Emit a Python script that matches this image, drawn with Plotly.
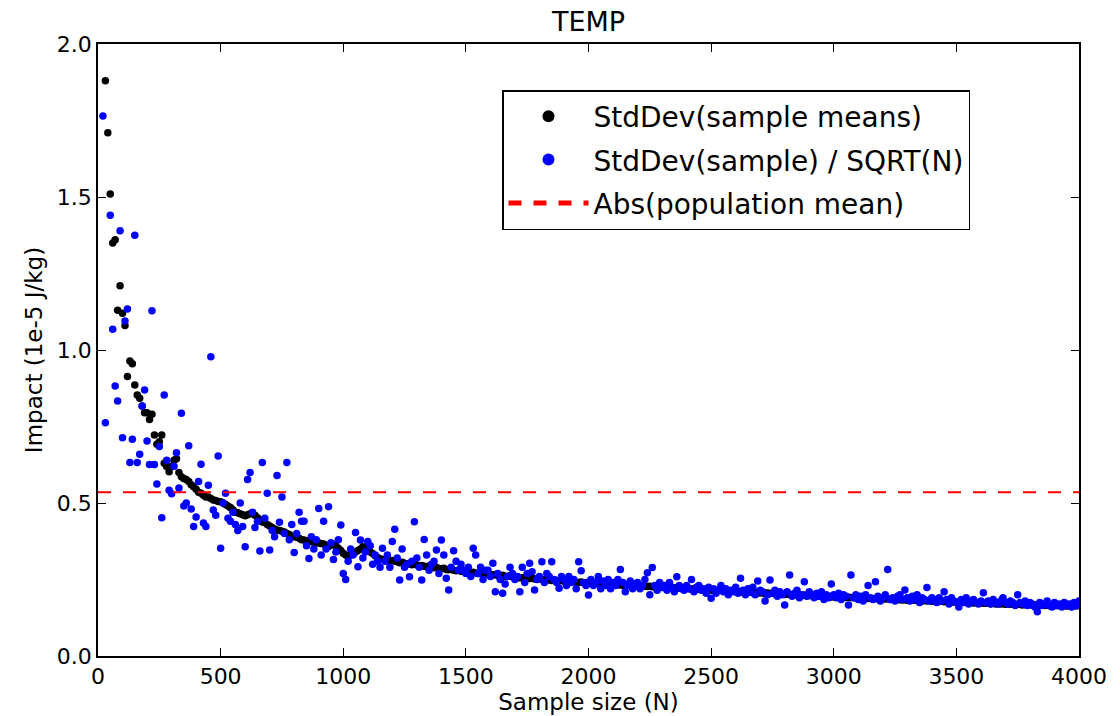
import plotly.graph_objects as go

sample_sizes = list(range(10, 4001, 10))

std_sample_means = [
    3.45, 2.47, 1.88, 1.71, 1.51, 1.35, 1.36, 1.13, 1.21, 1.12,
    1.08, 0.913, 0.964, 0.955, 0.886, 0.853, 0.842, 0.817, 0.795, 0.795,
    0.773, 0.79, 0.722, 0.692, 0.70, 0.722, 0.63, 0.619, 0.602, 0.62,
    0.64, 0.645, 0.60, 0.586, 0.58, 0.577, 0.57, 0.56, 0.553, 0.545,
    0.535, 0.532, 0.525, 0.52, 0.52, 0.515, 0.51, 0.508, 0.505, 0.504,
    0.50, 0.495, 0.49, 0.485, 0.478, 0.47, 0.468, 0.465, 0.462, 0.458,
    0.462, 0.465, 0.468, 0.46, 0.452, 0.445, 0.438, 0.436, 0.43, 0.425,
    0.42, 0.415, 0.412, 0.41, 0.408, 0.405, 0.40, 0.397, 0.392, 0.39,
    0.388, 0.385, 0.38, 0.379, 0.377, 0.375, 0.373, 0.372, 0.37, 0.369,
    0.368, 0.366, 0.362, 0.358, 0.362, 0.365, 0.36, 0.352, 0.345, 0.336,
    0.33, 0.325, 0.33, 0.335, 0.34, 0.345, 0.35, 0.357, 0.352, 0.345,
    0.34, 0.335, 0.328, 0.322, 0.318, 0.315, 0.316, 0.312, 0.31, 0.312,
    0.31, 0.308, 0.305, 0.306, 0.303, 0.30, 0.302, 0.298, 0.30, 0.297,
    0.295, 0.296, 0.293, 0.292, 0.294, 0.29, 0.288, 0.29, 0.286, 0.285,
    0.287, 0.283, 0.282, 0.284, 0.28, 0.279, 0.281, 0.277, 0.276, 0.278,
    0.275, 0.273, 0.274, 0.271, 0.27, 0.272, 0.268, 0.267, 0.269, 0.266,
    0.265, 0.266, 0.263, 0.262, 0.264, 0.261, 0.26, 0.262, 0.259, 0.258,
    0.259, 0.256, 0.255, 0.257, 0.254, 0.253, 0.255, 0.252, 0.251, 0.253,
    0.25, 0.249, 0.251, 0.248, 0.247, 0.249, 0.246, 0.245, 0.247, 0.244,
    0.245, 0.243, 0.242, 0.244, 0.241, 0.24, 0.242, 0.239, 0.24, 0.238,
    0.239, 0.238, 0.237, 0.238, 0.236, 0.235, 0.236, 0.234, 0.233, 0.234,
    0.233, 0.232, 0.233, 0.231, 0.231, 0.232, 0.230, 0.229, 0.230, 0.229,
    0.229, 0.228, 0.228, 0.227, 0.228, 0.226, 0.226, 0.225, 0.226, 0.224,
    0.225, 0.224, 0.223, 0.224, 0.222, 0.223, 0.221, 0.222, 0.220, 0.221,
    0.220, 0.219, 0.220, 0.218, 0.219, 0.217, 0.218, 0.216, 0.217, 0.215,
    0.216, 0.215, 0.214, 0.215, 0.213, 0.214, 0.212, 0.211, 0.212, 0.210,
    0.211, 0.210, 0.209, 0.210, 0.208, 0.209, 0.207, 0.208, 0.206, 0.207,
    0.206, 0.205, 0.206, 0.204, 0.205, 0.203, 0.204, 0.202, 0.203, 0.201,
    0.202, 0.201, 0.200, 0.201, 0.199, 0.200, 0.198, 0.199, 0.197, 0.198,
    0.197, 0.198, 0.196, 0.197, 0.195, 0.196, 0.194, 0.195, 0.193, 0.194,
    0.193, 0.194, 0.192, 0.193, 0.191, 0.192, 0.191, 0.190, 0.191, 0.189,
    0.190, 0.189, 0.190, 0.188, 0.189, 0.187, 0.188, 0.187, 0.186, 0.187,
    0.186, 0.187, 0.185, 0.186, 0.184, 0.185, 0.184, 0.183, 0.184, 0.182,
    0.183, 0.182, 0.183, 0.181, 0.182, 0.180, 0.181, 0.180, 0.181, 0.179,
    0.180, 0.179, 0.178, 0.179, 0.177, 0.178, 0.177, 0.176, 0.177, 0.176,
    0.177, 0.175, 0.176, 0.175, 0.174, 0.175, 0.173, 0.174, 0.173, 0.174,
    0.172, 0.173, 0.172, 0.171, 0.172, 0.170, 0.171, 0.170, 0.171, 0.169,
    0.170, 0.169, 0.170, 0.168, 0.169, 0.168, 0.167, 0.168, 0.167, 0.168,
    0.166, 0.167, 0.166, 0.165, 0.166, 0.165, 0.166, 0.164, 0.165, 0.164,
    0.165, 0.164, 0.163, 0.164, 0.163, 0.164, 0.162, 0.163, 0.164, 0.165,
]

std_sample_over_sqrt_n = [
    2.35, 1.765, 0.762, 2.05, 1.44, 1.068, 0.882, 0.833, 1.39, 0.713,
    1.095, 1.134, 0.632, 0.708, 1.375, 0.632, 0.659, 0.817, 0.869, 0.703,
    0.626, 1.128, 0.626, 0.562, 0.685, 0.452, 0.853, 0.64, 0.542, 0.53,
    0.62, 0.664, 0.549, 0.793, 0.49, 0.50, 0.687, 0.48, 0.423, 0.454,
    0.57, 0.627, 0.435, 0.423, 0.558, 0.978, 0.477, 0.46, 0.654, 0.352,
    0.50, 0.532, 0.45, 0.44, 0.47, 0.43, 0.41, 0.50, 0.423, 0.357,
    0.577, 0.60, 0.47, 0.42, 0.44, 0.343, 0.632, 0.45, 0.532, 0.346,
    0.41, 0.39, 0.59, 0.437, 0.52, 0.40, 0.632, 0.38, 0.43, 0.338,
    0.40, 0.47, 0.44, 0.44, 0.36, 0.319, 0.39, 0.35, 0.38, 0.482,
    0.33, 0.44, 0.35, 0.488, 0.37, 0.315, 0.34, 0.38, 0.428, 0.27,
    0.25, 0.31, 0.35, 0.33, 0.404, 0.292, 0.379, 0.32, 0.34, 0.374,
    0.36, 0.30, 0.33, 0.31, 0.29, 0.352, 0.31, 0.33, 0.29, 0.374,
    0.414, 0.32, 0.248, 0.35, 0.29, 0.30, 0.259, 0.31, 0.439, 0.32,
    0.29, 0.248, 0.381, 0.33, 0.28, 0.30, 0.31, 0.346, 0.27, 0.379,
    0.33, 0.254, 0.216, 0.29, 0.344, 0.31, 0.28, 0.30, 0.28, 0.27,
    0.29, 0.26, 0.352, 0.33, 0.27, 0.29, 0.25, 0.28, 0.28, 0.26,
    0.303, 0.21, 0.27, 0.25, 0.205, 0.235, 0.26, 0.29, 0.27, 0.25,
    0.26, 0.21, 0.29, 0.24, 0.27, 0.303, 0.275, 0.216, 0.25, 0.26,
    0.308, 0.24, 0.27, 0.26, 0.308, 0.25, 0.24, 0.221, 0.26, 0.25,
    0.23, 0.26, 0.24, 0.25, 0.22, 0.308, 0.279, 0.24, 0.23, 0.199,
    0.25, 0.23, 0.24, 0.26, 0.22, 0.245, 0.23, 0.25, 0.22, 0.24,
    0.23, 0.25, 0.283, 0.24, 0.21, 0.23, 0.245, 0.22, 0.235, 0.24,
    0.22, 0.23, 0.25, 0.272, 0.20, 0.289, 0.23, 0.215, 0.24, 0.225,
    0.23, 0.215, 0.24, 0.225, 0.21, 0.259, 0.23, 0.22, 0.215, 0.23,
    0.22, 0.25, 0.21, 0.225, 0.23, 0.215, 0.22, 0.205, 0.225, 0.189,
    0.22, 0.205, 0.215, 0.23, 0.21, 0.22, 0.20, 0.215, 0.21, 0.225,
    0.205, 0.254, 0.215, 0.20, 0.22, 0.21, 0.225, 0.20, 0.245, 0.215,
    0.21, 0.18, 0.20, 0.248, 0.205, 0.215, 0.195, 0.21, 0.20, 0.167,
    0.21, 0.265, 0.195, 0.205, 0.215, 0.19, 0.20, 0.243, 0.195, 0.21,
    0.20, 0.19, 0.205, 0.195, 0.21, 0.185, 0.20, 0.19, 0.235, 0.20,
    0.19, 0.205, 0.185, 0.20, 0.195, 0.167, 0.265, 0.19, 0.20, 0.185,
    0.195, 0.18, 0.20, 0.23, 0.19, 0.185, 0.243, 0.195, 0.18, 0.19,
    0.20, 0.283, 0.185, 0.19, 0.18, 0.195, 0.20, 0.185, 0.216, 0.19,
    0.18, 0.195, 0.185, 0.20, 0.175, 0.19, 0.185, 0.224, 0.18, 0.19,
    0.185, 0.175, 0.19, 0.18, 0.21, 0.185, 0.17, 0.19, 0.18, 0.175,
    0.16, 0.185, 0.175, 0.19, 0.17, 0.18, 0.185, 0.175, 0.17, 0.18,
    0.207, 0.175, 0.18, 0.17, 0.185, 0.175, 0.17, 0.18, 0.19, 0.175,
    0.17, 0.18, 0.175, 0.165, 0.20, 0.175, 0.17, 0.18, 0.165, 0.175,
    0.17, 0.16, 0.145, 0.175, 0.165, 0.17, 0.18, 0.165, 0.16, 0.175,
    0.165, 0.17, 0.16, 0.175, 0.165, 0.17, 0.16, 0.175, 0.165, 0.18,
]

abs_population_mean = 0.535
x_range = [0, 4000]
x_ticks = [0, 500, 1000, 1500, 2000, 2500, 3000, 3500, 4000]
y_ticks = [0.0, 0.5, 1.0, 1.5, 2.0]

FONT = "DejaVu Sans"

fig = go.Figure()
fig.add_trace(go.Scatter(
    x=sample_sizes, y=std_sample_means, mode="markers",
    name="StdDev(sample means)", legendgroup="a",
    marker=dict(color="#000000", size=7.5, line=dict(width=0)),
))
fig.add_trace(go.Scatter(
    x=sample_sizes, y=std_sample_over_sqrt_n, mode="markers",
    name="StdDev(sample) / SQRT(N)", legendgroup="b",
    marker=dict(color="#0000ff", size=7.5, line=dict(width=0)),
))
fig.add_trace(go.Scatter(
    x=x_range, y=[abs_population_mean, abs_population_mean], mode="lines",
    name="Abs(population mean)", legendgroup="c",
    line=dict(color="#ff0000", width=2, dash="13px,12px"),
))

axis_common = dict(
    showline=True, linecolor="black", linewidth=1.5, mirror="allticks",
    ticks="inside", ticklen=8, tickwidth=1, tickcolor="black",
    showgrid=False, zeroline=False,
    tickfont=dict(family=FONT, size=22, color="black"),
)

fig.update_layout(
    width=1120, height=716,
    margin=dict(l=98, r=41, t=44, b=60),
    paper_bgcolor="white", plot_bgcolor="white",
    font=dict(family=FONT, color="black"),
    title=dict(text="TEMP", x=(98 + 1079) / 2 / 1120, xanchor="center",
               y=1 - 22 / 716, yanchor="middle",
               font=dict(family=FONT, size=27, color="black")),
    xaxis=dict(range=x_range, tickvals=x_ticks,
               ticktext=[str(t) for t in x_ticks],
               title=dict(text="Sample size (N)", standoff=0,
                          font=dict(family=FONT, size=23)),
               **axis_common),
    yaxis=dict(range=[0, 2], tickvals=y_ticks,
               ticktext=[f"{t:.1f}" for t in y_ticks],
               title=dict(text="Impact (1e-5 J/kg)", standoff=8,
                          font=dict(family=FONT, size=23)),
               **axis_common),
    legend=dict(
        x=(502 - 98) / 981, y=(656 - 90) / 612, xanchor="left", yanchor="top",
        bgcolor="white", bordercolor="black", borderwidth=1.5,
        font=dict(family=FONT, size=28, color="black"),
        traceorder="grouped", tracegroupgap=4,
        itemsizing="constant", itemwidth=80,
    ),
    showlegend=True,
)

fig.write_html("out.html")
